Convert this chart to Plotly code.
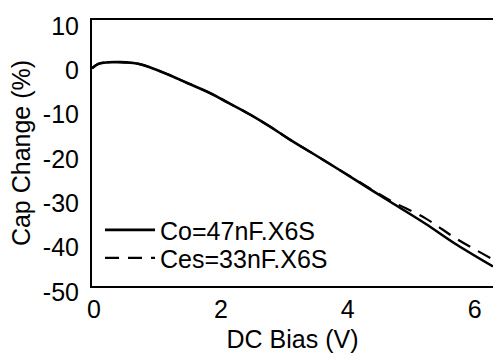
import plotly.graph_objects as go

# DC bias (V)
bias_co = [0.0, 0.1, 0.25, 0.45, 0.7, 0.9, 1.2, 1.5, 1.85, 2.15, 2.5, 2.8, 3.1, 3.65, 4.2, 4.7, 5.25, 5.75, 6.32]
cap_co = [-0.9, 0.1, 0.45, 0.5, 0.2, -0.6, -2.3, -4.2, -6.4, -8.7, -11.4, -14.0, -16.8, -21.6, -26.5, -31.0, -35.9, -40.7, -45.6]

bias_ces = [0.0, 0.1, 0.25, 0.45, 0.7, 0.9, 1.2, 1.5, 1.85, 2.15, 2.5, 2.8, 3.1, 3.65, 4.2, 4.7, 5.25, 5.75, 6.32]
cap_ces = [-0.9, 0.1, 0.45, 0.5, 0.2, -0.6, -2.3, -4.2, -6.4, -8.7, -11.4, -14.0, -16.8, -21.6, -26.4, -30.7, -34.7, -39.4, -44.0]

x_ticks = [0, 2, 4, 6]
x_labels = ["0", "2", "4", "6"]
y_ticks = [10, 0, -10, -20, -30, -40, -50]
y_labels = ["10", "0", "-10", "-20", "-30", "-40", "-50"]

FONT = "Liberation Sans, Arial, sans-serif"

fig = go.Figure()
fig.add_trace(go.Scatter(x=bias_co, y=cap_co, mode="lines", name="Co=47nF.X6S", legend="legend",
                         line=dict(color="black", width=2.6, shape="spline")))
fig.add_trace(go.Scatter(x=bias_ces, y=cap_ces, mode="lines", name="Ces=33nF.X6S", legend="legend2",
                         line=dict(color="black", width=2.2, dash="14px,9px", shape="spline")))

leg_common = dict(x=0.02, xanchor="left", yanchor="middle", bgcolor="rgba(0,0,0,0)",
                  font=dict(size=25), itemwidth=50)

fig.update_layout(
    width=494, height=360,
    margin=dict(l=92, r=1, t=20, b=74),
    paper_bgcolor="white", plot_bgcolor="white",
    font=dict(family=FONT, size=25, color="black"),
    showlegend=True,
    legend=dict(y=0.21, **leg_common),
    legend2=dict(y=0.105, **leg_common),
    xaxis=dict(range=[0, 6.32], tickvals=x_ticks, ticktext=x_labels, ticks="", showgrid=False, zeroline=False,
               showline=True, linecolor="black", linewidth=2, mirror=True,
               ticklabelstandoff=0, ticklabelshift=2, automargin=True,
               title=dict(text="DC Bias (V)", font=dict(size=25), standoff=8)),
    yaxis=dict(range=[-50, 10], tickvals=y_ticks, ticktext=y_labels, ticks="", showgrid=False, zeroline=False,
               showline=True, linecolor="black", linewidth=2,
               ticklabelstandoff=6, ticklabelshift=6,
               title=dict(text="Cap Change (%)", font=dict(size=25), standoff=5)),
)

fig.write_html("out.html")
